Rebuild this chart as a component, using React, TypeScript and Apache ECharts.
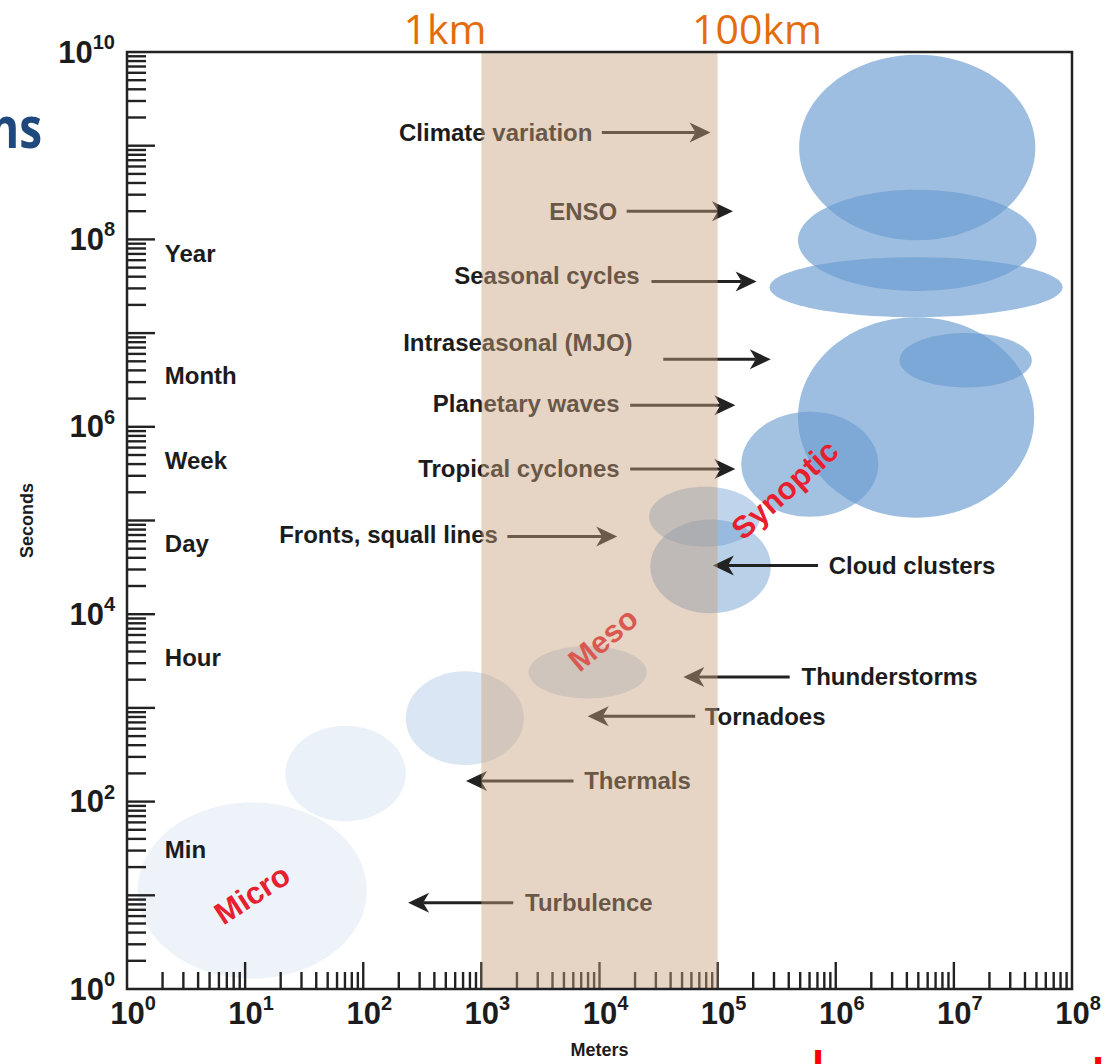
import React, { useEffect, useRef } from "react";
import * as echarts from "echarts";

// ---- Axes (log10 exponents) ----
const xExponentMin = 0;
const xExponentMax = 8;
const yExponentMin = 0;
const yExponentMax = 10;

// ---- Highlighted band 1 km .. 100 km (log10 meters) ----
const bandLogMeters = [3, 5];
const bandLabels = ["1km", "100km"];

// ---- Scale ellipses (log10 meters / log10 seconds, half-sizes in decades) ----
const ellipseNames = [
  "Climate variation", "ENSO", "Seasonal cycles", "Intraseasonal", "MJO",
  "Synoptic", "Cloud clusters", "Fronts", "Thunderstorms", "Tornadoes", "Thermals", "Turbulence",
];
const ellipseCenterLogMeters = [6.69, 6.69, 6.68, 6.68, 7.1, 5.78, 4.94, 4.89, 3.9, 2.86, 1.85, 1.06];
const ellipseCenterLogSeconds = [8.98, 7.99, 7.49, 6.1, 6.71, 5.6, 4.51, 5.04, 3.38, 2.89, 2.3, 1.05];
const ellipseHalfWidthDecades = [1.0, 1.01, 1.24, 1.0, 0.56, 0.58, 0.51, 0.47, 0.5, 0.5, 0.51, 0.97];
const ellipseHalfHeightDecades = [0.99, 0.54, 0.32, 1.07, 0.29, 0.56, 0.5, 0.32, 0.28, 0.5, 0.51, 0.94];
const ellipseOpacity = [0.66, 0.66, 0.66, 0.66, 0.66, 0.62, 0.47, 0.42, 0.28, 0.25, 0.14, 0.12];

// ---- Arrow annotations ----
const annotationLabels = [
  "Climate variation", "ENSO", "Seasonal cycles", "Intraseasonal (MJO)", "Planetary waves",
  "Tropical cyclones", "Fronts, squall lines", "Cloud clusters", "Thunderstorms", "Tornadoes",
  "Thermals", "Turbulence",
];
const annotationTextLogX = [3.94, 4.15, 4.34, 4.28, 4.17, 4.17, 3.14, 5.94, 5.71, 4.89, 3.87, 3.37];
const annotationTextLogY = [9.14, 8.3, 7.62, 6.9, 6.25, 5.55, 4.85, 4.52, 3.33, 2.91, 2.22, 0.92];
const arrowFromLogX = [4.02, 4.23, 4.44, 4.54, 4.26, 4.26, 3.22, 5.85, 5.61, 4.81, 3.78, 3.27];
const arrowToLogX = [4.94, 5.13, 5.33, 5.45, 5.15, 5.15, 4.15, 4.96, 4.71, 3.9, 2.87, 2.38];
const arrowLogY = [9.14, 8.3, 7.55, 6.72, 6.23, 5.55, 4.83, 4.52, 3.33, 2.91, 2.22, 0.92];

// ---- Time period labels ----
const periodLabels = ["Year", "Month", "Week", "Day", "Hour", "Min"];
const periodLogSeconds = [7.85, 6.55, 5.64, 4.75, 3.54, 1.49];
const periodLogX = 0.32;

// ---- Regime labels ----
const regimeLabels = ["Micro", "Meso", "Synoptic"];
const regimeLogMeters = [1.06, 4.03, 5.57];
const regimeLogSeconds = [1.01, 3.73, 5.33];
const regimeAngles = [33, 40, 42];

const FONT = '"Liberation Sans", Arial, Helvetica, sans-serif';
const TEXT = "#1c1c1c";

function buildTicks(maxExp: number, axis: number) {
  const rows: number[][] = [];
  for (let e = 0; e < maxExp; e++) {
    for (let k = 1; k <= 9; k++) {
      const v = e + Math.log10(k);
      if (v > 0 && v < maxExp) rows.push([v, k === 1 ? 1 : 0, axis]);
    }
  }
  return rows;
}

const labelFormatter = (v: number) => `{pad| }10{sup|${Math.round(v)}}`;
const labelRichX = {
  pad: { width: 12, fontSize: 10 },
  sup: { fontSize: 20, fontWeight: "bold", fontFamily: FONT, color: TEXT, lineHeight: 20, verticalAlign: "top" },
};
const labelRichY = {
  sup: { fontSize: 20, fontWeight: "bold", fontFamily: FONT, color: TEXT, lineHeight: 20, verticalAlign: "top" },
};

function buildOption() {
  const tickRows = [...buildTicks(xExponentMax, 0), ...buildTicks(yExponentMax, 1)];

  return {
    animation: false,
    backgroundColor: "#ffffff",
    grid: {
      left: 127, top: 52, right: 40, bottom: 74,
      show: true, borderColor: "#222", borderWidth: 2.5, backgroundColor: "transparent", z: 20,
    },
    xAxis: {
      type: "value", min: xExponentMin, max: xExponentMax, interval: 1,
      axisLine: { show: false }, axisTick: { show: false }, splitLine: { show: false },
      name: "Meters", nameLocation: "middle", nameGap: 52,
      nameTextStyle: { fontSize: 18, fontWeight: "bold", fontFamily: FONT, color: TEXT },
      axisLabel: {
        margin: 4, formatter: labelFormatter, fontSize: 31, fontWeight: "bold", fontFamily: FONT,
        color: TEXT, lineHeight: 40, rich: labelRichX,
      },
    },
    yAxis: {
      type: "value", min: yExponentMin, max: yExponentMax, interval: 2,
      axisLine: { show: false }, axisTick: { show: false }, splitLine: { show: false },
      name: "Seconds", nameLocation: "middle", nameGap: 91,
      nameTextStyle: { fontSize: 18, fontWeight: "bold", fontFamily: FONT, color: TEXT },
      axisLabel: {
        margin: 12, formatter: (v: number) => `10{sup|${Math.round(v)}}`, fontSize: 31, fontWeight: "bold",
        fontFamily: FONT, color: TEXT, lineHeight: 40, rich: labelRichY,
      },
    },
    graphic: [
      { type: "text", x: 445, y: 28, style: { text: bandLabels[0], fill: "#E46C0A", font: '41px "Open Sans", sans-serif', align: "center", verticalAlign: "middle" } },
      { type: "text", x: 757, y: 28, style: { text: bandLabels[1], fill: "#E46C0A", font: '41px "Open Sans", sans-serif', align: "center", verticalAlign: "middle" } },
      { type: "text", x: 42, y: 125, scaleY: 1.25, style: { text: "ns", fill: "#1F497D", font: 'bold 46px "Open Sans", sans-serif', align: "right", verticalAlign: "middle" } },
      { type: "text", x: 818, y: 1044, style: { text: "l", fill: "#FF0000", font: 'bold 40px "Open Sans", sans-serif', align: "center", verticalAlign: "top" } },
      { type: "text", x: 1017, y: 1057, style: { text: "t", fill: "#FF0000", font: 'bold 40px "Open Sans", sans-serif', align: "center", verticalAlign: "top" } },
      { type: "text", x: 1098, y: 1051, style: { text: "l", fill: "#FF0000", font: 'bold 40px "Open Sans", sans-serif', align: "center", verticalAlign: "top" } },
    ],
    series: [
      {
        type: "custom", name: "scales", z: 2, silent: true,
        data: ellipseCenterLogMeters.map((x, i) => [x, ellipseCenterLogSeconds[i]]),
        renderItem: (params: any, api: any) => {
          const i = params.dataIndex;
          const c = api.coord([api.value(0), api.value(1)]);
          const s = api.size([ellipseHalfWidthDecades[i], ellipseHalfHeightDecades[i]]);
          return {
            type: "ellipse",
            shape: { cx: c[0], cy: c[1], rx: s[0], ry: s[1] },
            style: { fill: `rgba(106,156,208,${ellipseOpacity[i]})` },
          };
        },
      },
      {
        type: "custom", name: "ticks", z: 3, silent: true,
        data: tickRows,
        renderItem: (params: any, api: any) => {
          const v = api.value(0), major = api.value(1), axis = api.value(2);
          if (axis === 0) {
            const p = api.coord([v, yExponentMin]);
            const len = major ? 27 : 17;
            return { type: "line", shape: { x1: p[0], y1: p[1], x2: p[0], y2: p[1] - len }, style: { stroke: "#222", lineWidth: 2.4 } };
          }
          const p = api.coord([xExponentMin, v]);
          const len = major ? 28 : 19;
          return { type: "line", shape: { x1: p[0], y1: p[1], x2: p[0] + len, y2: p[1] }, style: { stroke: "#222", lineWidth: 2.4 } };
        },
      },
      {
        type: "custom", name: "annotations", z: 4, silent: true,
        data: annotationTextLogX.map((x, i) => [x, annotationTextLogY[i]]),
        renderItem: (params: any, api: any) => {
          const i = params.dataIndex;
          const t = api.coord([api.value(0), api.value(1)]);
          const a1 = api.coord([arrowFromLogX[i], arrowLogY[i]]);
          const a2 = api.coord([arrowToLogX[i], arrowLogY[i]]);
          const dir = a2[0] > a1[0] ? 1 : -1;
          const L = 21, W = 10, notch = 6;
          const back = a2[0] - dir * L;
          const y = a1[1];
          return {
            type: "group",
            children: [
              { type: "line", shape: { x1: a1[0], y1: y, x2: back + dir * notch, y2: y }, style: { stroke: "#222", lineWidth: 3 } },
              { type: "polygon", shape: { points: [[a2[0], y], [back, y - W], [back + dir * notch, y], [back, y + W]] }, style: { fill: "#222" } },
              {
                type: "text", x: t[0], y: t[1],
                style: {
                  text: annotationLabels[i], fill: TEXT, fontSize: 24, fontWeight: "bold", fontFamily: FONT,
                  align: dir > 0 ? "right" : "left", verticalAlign: "middle",
                },
              },
            ],
          };
        },
      },
      {
        type: "custom", name: "periods", z: 4, silent: true,
        data: periodLogSeconds.map((y) => [periodLogX, y]),
        renderItem: (params: any, api: any) => {
          const i = params.dataIndex;
          const p = api.coord([api.value(0), api.value(1)]);
          return {
            type: "text", x: p[0], y: p[1],
            style: { text: periodLabels[i], fill: TEXT, fontSize: 24, fontWeight: "bold", fontFamily: FONT, align: "left", verticalAlign: "middle" },
          };
        },
      },
      {
        type: "custom", name: "regimes", z: 4, silent: true,
        data: regimeLogMeters.map((x, i) => [x, regimeLogSeconds[i]]),
        renderItem: (params: any, api: any) => {
          const i = params.dataIndex;
          const p = api.coord([api.value(0), api.value(1)]);
          return {
            type: "text", x: p[0], y: p[1], rotation: (regimeAngles[i] * Math.PI) / 180,
            style: { text: regimeLabels[i], fill: "#E8202E", fontSize: 31, fontWeight: "bold", fontFamily: FONT, align: "center", verticalAlign: "middle" },
          };
        },
      },
      {
        type: "custom", name: "band", z: 6, silent: true,
        data: [[bandLogMeters[0], yExponentMin]],
        renderItem: (params: any, api: any) => {
          const p1 = api.coord([bandLogMeters[0], yExponentMax]);
          const p2 = api.coord([bandLogMeters[1], yExponentMin]);
          return {
            type: "rect",
            shape: { x: p1[0], y: p1[1], width: p2[0] - p1[0], height: p2[1] - p1[1] },
            style: { fill: "rgba(200,160,125,0.45)" },
          };
        },
      },
    ],
  };
}

export default function App() {
  const ref = useRef<HTMLDivElement>(null);
  useEffect(() => {
    if (!ref.current) return;
    const chart = echarts.init(ref.current, null, { renderer: "svg" });
    chart.setOption(buildOption() as any);
    return () => chart.dispose();
  }, []);
  return (
    <div
      ref={ref}
      style={{ position: "fixed", left: 0, top: 0, width: 1112, height: 1064, background: "#fff" }}
    />
  );
}
